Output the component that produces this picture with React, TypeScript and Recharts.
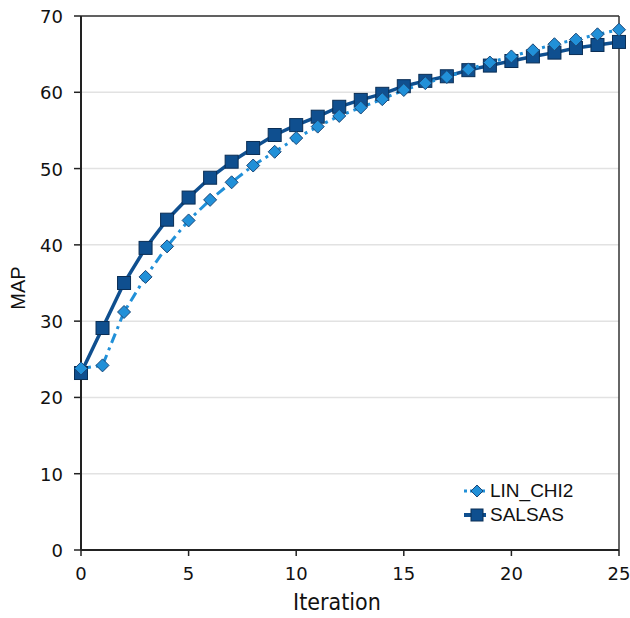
import React from "react";
import {
  LineChart,
  Line,
  XAxis,
  YAxis,
  CartesianGrid,
  ReferenceLine,
  Label,
} from "recharts";

const iterations = [0, 1, 2, 3, 4, 5, 6, 7, 8, 9, 10, 11, 12, 13, 14, 15, 16, 17, 18, 19, 20, 21, 22, 23, 24, 25];
const linChi2 = [23.8, 24.2, 31.2, 35.8, 39.8, 43.2, 45.9, 48.2, 50.4, 52.2, 54.0, 55.5, 56.9, 58.0, 59.1, 60.3, 61.2, 62.0, 63.0, 63.9, 64.7, 65.5, 66.3, 66.9, 67.6, 68.2];
const salsas = [23.2, 29.1, 35.0, 39.6, 43.3, 46.2, 48.8, 50.9, 52.7, 54.4, 55.7, 56.8, 58.1, 59.0, 59.8, 60.8, 61.5, 62.1, 62.9, 63.5, 64.1, 64.7, 65.2, 65.8, 66.2, 66.6];
const xTicks = [0, 5, 10, 15, 20, 25];
const yTicks = [0, 10, 20, 30, 40, 50, 60, 70];

const data = iterations.map((it, i) => ({ it, lin: linChi2[i], sal: salsas[i] }));

const LIN_COLOR = "#2190d8";
const SAL_COLOR = "#0f4f8f";
const FONT = "DejaVu Sans";

const XTick = (props: any) => {
  const { x, y, payload } = props;
  return (
    <text x={x} y={y + 22} textAnchor="middle" fontFamily={FONT} fontSize={18} fill="#111">
      {payload.value}
    </text>
  );
};

const YTick = (props: any) => {
  const { x, y, payload } = props;
  return (
    <text x={x - 9} y={y + 7} textAnchor="end" fontFamily={FONT} fontSize={18} fill="#111">
      {payload.value}
    </text>
  );
};

const Diamond = (props: any) => {
  const { cx, cy, index } = props;
  if (cx == null || cy == null) return <g key={`d${index}`} />;
  const r = 6.5;
  return (
    <path
      key={`d${index}`}
      d={`M${cx},${cy - r}L${cx + r},${cy}L${cx},${cy + r}L${cx - r},${cy}Z`}
      fill={LIN_COLOR}
      stroke="#1a4778"
      strokeWidth={1}
    />
  );
};

const Square = (props: any) => {
  const { cx, cy, index } = props;
  if (cx == null || cy == null) return <g key={`s${index}`} />;
  const h = 6.5;
  return (
    <rect
      key={`s${index}`}
      x={cx - h}
      y={cy - h}
      width={h * 2}
      height={h * 2}
      fill={SAL_COLOR}
      stroke="#0a2e55"
      strokeWidth={1}
    />
  );
};

const LegendBox = () => (
  <div
    style={{
      position: "absolute",
      left: 464,
      top: 479,
      fontFamily: "Liberation Sans",
      fontSize: 19,
      color: "#111",
      lineHeight: "24px",
    }}
  >
    <div style={{ display: "flex", alignItems: "center" }}>
      <svg width={24} height={16}>
        <line x1={0} y1={8} x2={22} y2={8} stroke={LIN_COLOR} strokeWidth={3} strokeDasharray="3 3" />
        <path d="M13,2L19,8L13,14L7,8Z" fill={LIN_COLOR} stroke="#1a4778" strokeWidth={1} />
      </svg>
      <span style={{ marginLeft: 2 }}>LIN_CHI2</span>
    </div>
    <div style={{ display: "flex", alignItems: "center" }}>
      <svg width={24} height={16}>
        <line x1={0} y1={8} x2={22} y2={8} stroke={SAL_COLOR} strokeWidth={4} />
        <rect x={7} y={2} width={12} height={12} fill={SAL_COLOR} stroke="#0a2e55" strokeWidth={1} />
      </svg>
      <span style={{ marginLeft: 2 }}>SALSAS</span>
    </div>
  </div>
);

export default function App() {
  return (
    <div style={{ position: "absolute", left: 0, top: 0, width: 630, height: 618, background: "#fff" }}>
      <LineChart width={630} height={618} data={data} margin={{ top: 16, right: 11, bottom: 0, left: 0 }}>
        <CartesianGrid vertical={false} stroke="#e2e2e2" strokeWidth={1.5} />
        <XAxis
          dataKey="it"
          type="number"
          domain={[0, 25]}
          ticks={xTicks}
          tick={<XTick />}
          tickSize={6}
          axisLine={{ stroke: "#222", strokeWidth: 2 }}
          tickLine={{ stroke: "#222", strokeWidth: 1.5 }}
          height={68}
        >
          <Label
            content={() => (
              <text
                x={337}
                y={610}
                textAnchor="middle"
                fontFamily="DejaVu Sans Condensed"
                fontSize={23}
                fill="#111"
              >
                Iteration
              </text>
            )}
          />
        </XAxis>
        <YAxis
          type="number"
          domain={[0, 70]}
          ticks={yTicks}
          tick={<YTick />}
          tickSize={7}
          axisLine={{ stroke: "#222", strokeWidth: 2 }}
          tickLine={{ stroke: "#222", strokeWidth: 1.5 }}
          width={81}
        >
          <Label
            content={() => (
              <text
                x={25}
                y={288}
                transform="rotate(-90 25 288)"
                textAnchor="middle"
                fontFamily="Liberation Sans"
                fontSize={20}
                fill="#111"
              >
                MAP
              </text>
            )}
          />
        </YAxis>
        <ReferenceLine y={70} stroke="#333" strokeWidth={1.5} />
        <ReferenceLine x={25} stroke="#333" strokeWidth={1.5} />
        <Line
          dataKey="sal"
          name="SALSAS"
          stroke={SAL_COLOR}
          strokeWidth={3.5}
          dot={Square}
          isAnimationActive={false}
        />
        <Line
          dataKey="lin"
          name="LIN_CHI2"
          stroke={LIN_COLOR}
          strokeWidth={3}
          strokeDasharray="10 5 3 5"
          dot={Diamond}
          isAnimationActive={false}
        />
      </LineChart>
      <LegendBox />
    </div>
  );
}
